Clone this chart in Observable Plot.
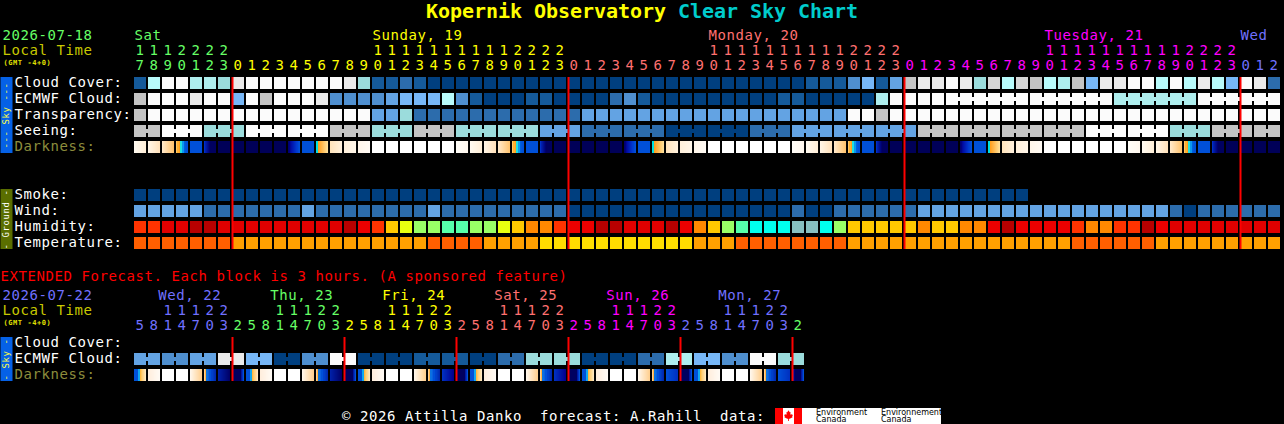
<!DOCTYPE html>
<html>
<head>
<meta charset="utf-8">
<script src="https://cdn.jsdelivr.net/npm/d3@7"></script>
<script src="https://cdn.jsdelivr.net/npm/@observablehq/plot@0.6"></script>
<style>
html,body{margin:0;padding:0;background:#000;width:1284px;height:424px;overflow:hidden}
body{font-family:"DejaVu Sans Mono",monospace;color:#fff}
#title{height:25px;line-height:23px;text-align:center;font-size:20px;font-weight:bold;color:#ff0;white-space:pre;letter-spacing:-.04px}
#title span{color:#0cc}
#charts svg{display:block}
#footer{position:absolute;left:342px;top:408px;height:16px;line-height:16px;font-size:14px;white-space:pre;letter-spacing:.57px}
#logo{position:absolute;left:775px;top:408px;width:166px;height:16px;background:#fff;color:#000;font:8px/7px "DejaVu Sans",sans-serif}
#logo i{position:absolute;top:0;width:8px;height:16px;background:#f00}
#logo svg{position:absolute;left:9px;top:2px}
#logo b{position:absolute;top:1px;font-weight:normal;white-space:pre}
</style>
</head>
<body>
<div id="title">Kopernik Observatory <span>Clear Sky Chart</span></div>
<div id="charts"></div>
<div id="footer">© 2026 Attilla Danko  forecast: A.Rahill  data:</div>
<div id="logo"><i style="left:0"></i><i style="left:19px"></i>
<svg width="9" height="12" viewBox="0 0 11 14"><path fill="#f00" d="M5.5 0 7 2.5 8 2 7.700 5.500 9 4.500 9.500 5.500 11 5.500 10 7.500 10.500 8.500 7 10.500 6 10.500 6 13 5 13 5 10.500 4 10.500 .5 8.500 1 7.500 0 5.500 1.500 5.500 2 4.500 3.300 5.500 3 2 4 2.500Z"/></svg>
<b style="left:41px">Environment
Canada</b><b style="left:106px">Environnement
Canada</b></div>
<script>
// ---- Hourly table -------------------------------------------------------
const hours = [17,18,19,20,21,22,23,
  0,1,2,3,4,5,6,7,8,9,10,11,12,13,14,15,16,17,18,19,20,21,22,23,
  0,1,2,3,4,5,6,7,8,9,10,11,12,13,14,15,16,17,18,19,20,21,22,23,
  0,1,2,3,4,5,6,7,8,9,10,11,12,13,14,15,16,17,18,19,20,21,22,23,
  0,1,2];
const hourDay = [...Array(7).fill("sat"),...Array(24).fill("sun"),...Array(24).fill("mon"),...Array(24).fill("tue"),...Array(3).fill("wed")];

// Sky levels: index into skyColors
const cloudCover = [1,8,9,9,7,7,6,10,9,9,9,9,9,9,9,10,6,1,1,2,1,
  0,0,0,0,0,0,0,0,0,0,0,0,0,0,0,0,0,0,0,0,0,0,0,0,0,0,0,1,1,1,3,
  5,1,4,12,10,10,9,10,6,11,8,11,12,8,7,12,5,10,10,9,9,8,9,8,10,8,5,9,10,2];
const ecmwfCloud = [12,9,9,9,10,9,9,5,9,12,9,9,9,10,3,3,3,3,4,5,5,
  5,8,3,1,0,0,0,1,1,0,0,0,0,2,3,1,0,0,0,0,0,0,0,0,0,1,1,0,0,0,0,
  0,7,9,9,9,9,9,9,9,9,9,9,9,9,9,9,9,9,7,7,7,7,7,7,9,9,9,9,9,9];
const transparency = [12,9,9,9,9,9,9,9,9,9,9,9,9,9,9,9,9,4,4,6,2,
  2,2,2,2,2,2,2,2,2,2,2,4,4,4,4,4,4,4,4,4,4,4,4,4,4,4,4,4,4,4,9,
  9,12,9,9,9,9,9,9,9,9,9,9,9,9,9,9,9,9,9,9,9,9,9,9,9,9,9,9,9,9];
const seeing = [12,12,9,9,9,6,6,6,9,9,9,9,9,9,12,12,12,6,6,6,12,
  12,12,6,6,6,6,6,6,4,4,4,2,2,2,2,2,2,0,0,0,0,0,0,2,2,2,4,4,4,4,4,
  4,4,4,4,12,12,12,12,12,12,12,12,12,12,12,12,9,9,9,9,9,9,6,6,6,12,12,12,12,12];
const smoke = Array.from({length:64},()=>0);
const wind = [4,4,4,4,4,2,2,2,2,2,2,2,4,2,2,2,2,2,2,2,2,4,
  2,2,2,2,2,2,2,2,2,0,0,0,0,0,0,0,0,0,0,0,0,0,0,0,0,2,0,0,2,2,
  2,2,2,2,4,4,4,4,4,4,4,4,4,4,4,4,4,4,4,4,4,4,2,0,2,2,2,2,2,2];
// Humidity levels: index into humidityColors
const humidity = [0,0,2,2,3,3,2,2,2,2,2,2,2,2,2,3,1,0,4,5,6,
  6,7,7,6,6,5,4,10,10,0,1,1,3,3,2,2,2,3,1,10,4,6,7,8,8,8,9,9,8,6,4,
  4,4,4,4,10,4,4,10,10,1,3,1,1,1,1,0,10,10,0,0,3,1,2,2,2,2,2,2,2,2];
// Temperature levels: index into temperatureColors
const temperature = [0,0,0,0,0,0,0,1,1,1,1,1,1,1,1,1,1,1,1,1,1,
  0,0,0,0,1,1,1,1,2,2,2,2,2,2,2,2,2,2,2,1,1,1,0,0,0,0,0,0,0,0,1,
  1,1,1,1,1,1,1,1,1,1,1,1,1,1,1,0,0,0,0,0,0,1,1,1,1,1,1,1,1,1];
// Darkness: one sky state per block
const darkness = ["A","B","C","D","E","F","N","N","N","N","N","G","E","H","I","J","K","W","W","W","W","W","W","L",
  "A","B","C","D","E","F","N","N","N","N","N","G","E","H","I","J","K","W","W","W","W","W","W","L",
  "A","B","C","D","E","F","N","N","N","N","N","G","E","H","I","J","K","W","W","W","W","W","W","L",
  "A","B","C","D","E","F","N","N","N","N"];

const blockDays = [
  {text:"Sat",col:0,day:"sat"},{text:"Sunday, 19",col:17,day:"sun"},{text:"Monday, 20",col:41,day:"mon"},
  {text:"Tuesday, 21",col:65,day:"tue"},{text:"Wed",col:79,day:"wed"}];
const midnights = [7,31,55,79];

// ---- Extended table -----------------------------------------------------
const extHours = [5,8,11,14,17,20,23,2,5,8,11,14,17,20,23,2,5,8,11,14,17,20,23,2,5,8,11,14,17,20,23,2,5,8,11,14,17,20,23,2,5,8,11,14,17,20,23,2];
const extHourDay = [...Array(7).fill("wed"),...Array(8).fill("sun2"),...Array(8).fill("sun"),...Array(8).fill("mon"),...Array(8).fill("tue"),...Array(8).fill("wed"),"sun2"];
const extEcmwf = [4,4,3,3,4,4,10,10,5,5,0,0,3,3,9,9,0,0,0,0,1,1,1,1,0,0,2,2,6,6,6,6,0,0,0,0,2,2,7,7,5,5,3,3,9,9,6,6];
const extDarkness = ["P","Q","W","W","R","S","T","U","P","Q","W","W","R","S","T","U","P","Q","W","W","R","S","T2","U",
  "P","Q","W","W","R","S","T2","U","P","Q","W","W","R","S","T3","U","P","Q","W","W","R","S","T3","V"];
const extDays = [
  {text:"Wed, 22",col:1.7,day:"wed"},{text:"Thu, 23",col:9.7,day:"sun2"},{text:"Fri, 24",col:17.7,day:"sun"},
  {text:"Sat, 25",col:25.7,day:"mon"},{text:"Sun, 26",col:33.7,day:"tue"},{text:"Mon, 27",col:41.7,day:"wed"}];
const extMidnights = [7,15,23,31,39,47];

// ---- Colours ------------------------------------------------------------
const skyColors = ["#003f7f","#155a9a","#2c6cac","#4f8fcf","#63a3e3","#77b7f7","#9bdcdc","#aeeeee","#b8fbfb","#fbfbfb","#eaeaea","#d6d6d6","#c4c4c4"];
const humidityColors = ["#ff3300","#ec0000","#e00000","#b80000","#ffc800","#e8ff10","#99ff66","#55ffaa","#00ffee","#88c0c0","#ff8800"];
const temperatureColors = ["#ff5f00","#ffa000","#ffdd00"];
const dayColors = {sat:"#66ff66",sun2:"#66ff66",sun:"#ffff00",mon:"#ff7070",tue:"#ff00ff",wed:"#7070ff"};
const colorDomain = [...skyColors.map((_,i)=>"s"+i),...humidityColors.map((_,i)=>"h"+i),...temperatureColors.map((_,i)=>"t"+i)];
const colorRange = [...skyColors,...humidityColors,...temperatureColors];

function ramp(a,b,n=12){return d3.quantize(d3.interpolateRgb(a,b),n)}
const darkStrips = {
  W:ramp("#ffffff","#ffffff"), N:ramp("#000058","#000058"), E:ramp("#0050d8","#0050d8"),
  A:ramp("#fffaf0","#ffefd8"), B:ramp("#fff5e6","#ffe2bc"), C:ramp("#ffe8c8","#ffc470"),
  D:["#ffc868","#ffb030","#ffb030","#ffa020","#20e0e0","#20e0e0","#0a98f0","#0a98f0","#0060e0","#0058d8","#0050d8","#0050d8"],
  F:["#0030c8","#0020b0","#0018a0","#001090","#000880","#000070",...Array(6).fill("#000060")],
  G:["#000070","#000080","#000898","#0010a8","#0018b0","#0020b8","#0028c0","#0030c8","#0038d0","#0040d0","#0048d8","#0050d8"],
  H:["#00e0e0","#00e0e0",...ramp("#ffa020","#ffe098",10)],
  I:ramp("#ffe4bc","#fff0dc"), J:ramp("#fff0dc","#fff6e8"), K:ramp("#fff6ea","#fffaf4"), L:ramp("#fffdf8","#fff8ee"),
  P:["#0050d8","#0050d8","#0050d8","#0050d8","#10a8f0","#10a8f0","#ffb840","#ffc860","#ffd080","#ffd890","#ffe0a8","#ffe8c0"],
  Q:ramp("#ffeedd","#fffaf4"), R:ramp("#fff6ea","#ffd090"),
  S:["#ffd090","#ffb040","#0a70e0","#0a70e0","#0a60e0","#0050d8","#0050d8","#0040d0","#0040c8","#0038c0","#0030b8","#0028b0"],
  T:ramp("#0020a8","#000068"), T2:ramp("#0030c0","#000090"), T3:ramp("#0050d8","#0030c0"),
  U:[...Array(9).fill("#000060"),"#0018a0","#0030c0","#0050d8"],
  V:["#0040c8","#0020a0","#000080",...Array(6).fill("#000060"),"#0018a0","#0030c0","#0050d8"]
};

// ---- Derived records ----------------------------------------------------
const cellW = 12/14;                         // block width in column units
const blocks = (values,row,prefix)=>values.map((v,col)=>({col,row,key:prefix+v}));
const strips = (values,row)=>values.flatMap((v,col)=>darkStrips[v].map((fill,j)=>({col,j,row,fill})));
// links join neighbouring blocks of one forecast period
const links = (values,row,prefix,joined)=>values.slice(0,-1).flatMap((v,col)=>joined(col)?[{col,row,key:prefix+v}]:[]);

const blockMark = d=>Plot.barX(d,{x1:"col",x2:e=>e.col+cellW,y:"row",fill:"key"});
const linkMark = d=>Plot.barX(d,{x1:e=>e.col+11/14,x2:e=>e.col+15/14,y:"row",fill:"key",insetTop:4,insetBottom:4});
const stripMark = d=>Plot.barX(d,{x1:e=>e.col+e.j/14,x2:e=>e.col+(e.j+1.02)/14,y:"row",fill:"fill"});
const tens = h=>h>=10?String(Math.floor(h/10)):"";
const ones = h=>String(h%10);
const digits = (hs,ds)=>hs.map((h,col)=>({col:col+5.5/14,h,fill:dayColors[ds[col]]}));
const sideBar = (y1,y2,stroke)=>Plot.ruleX([-128/14],{y1:()=>y1,y2:()=>y2,stroke,strokeWidth:12});
const common = {width:1284,marginLeft:134,marginRight:2,marginTop:0,marginBottom:0,
  style:{background:"#000",fontFamily:"'DejaVu Sans Mono',monospace",fontSize:"14px",letterSpacing:"0.57px"}};
const xScale = {domain:[0,82],axis:null};
const colorScale = {type:"ordinal",domain:colorDomain,range:colorRange};
const LEFT = -134/14;   // column position of the page's left edge

const headerMarks = (dayList,hs,ds,dateText,dateFill)=>[
  Plot.text(dayList,{x:"col",y:()=>"date",text:"text",fill:d=>dayColors[d.day],textAnchor:"start"}),
  Plot.text(digits(hs,ds),{x:"col",y:()=>"tens",text:d=>tens(d.h),fill:"fill",dy:-1}),
  Plot.text(digits(hs,ds),{x:"col",y:()=>"ones",text:d=>ones(d.h),fill:"fill",dy:-2}),
  Plot.text([dateText],{x:LEFT+2/14,y:()=>"date",text:d=>d,fill:dateFill,textAnchor:"start"}),
  Plot.text(["Local Time"],{x:LEFT+2/14,y:()=>"tens",text:d=>d,fill:"#c8c800",textAnchor:"start",dy:-1}),
  Plot.text(["(GMT -4+0)"],{x:LEFT+3/14,y:()=>"ones",text:d=>d,fill:"#e0e000",fontSize:7,fontWeight:"bold",textAnchor:"start",dy:-5})
];
const rowAxis = (ticks,labels)=>Plot.axisY({ticks,tickSize:0,tickPadding:0,textAnchor:"start",dx:-120,dy:-1,
  tickFormat:d=>labels[d],label:null,fill:d=>d==="dark"?"#8c8c3c":"#ffffff",fontSize:14});
const sideText = (text,y,fill,dy=0)=>Plot.text([text],{x:-128/14,y:()=>y,text:d=>d,rotate:-90,fill,fontSize:9,dy,dx:-.5});

// ---- Top chart ----------------------------------------------------------
const topRows = ["date","tens","ones","cloud","ecmwf","transp","seeing","dark","gap1","gap2","smoke","wind","hum","temp","gap3","ext"];
const topLabels = {cloud:"Cloud Cover:",ecmwf:"ECMWF Cloud:",transp:"Transparency:",seeing:"Seeing:",dark:"Darkness:",
  smoke:"Smoke:",wind:"Wind:",hum:"Humidity:",temp:"Temperature:"};
const topChart = Plot.plot({...common,height:260,
  x:xScale,y:{domain:topRows,padding:.25,axis:null},color:colorScale,
  marks:[
    sideBar("cloud","dark","#0561e6"),
    sideBar("smoke","temp","#5a6e00"),
    sideText("--- Sky ---","transp","#ffff40"),
    sideText("- Ground -","wind","#ffffff",8),
    ...headerMarks(blockDays,hours,hourDay,"2026-07-18","#66ff66"),
    rowAxis(Object.keys(topLabels),topLabels),
    blockMark(blocks(cloudCover,"cloud","s")),
    blockMark(blocks(ecmwfCloud,"ecmwf","s")),
    linkMark(links(ecmwfCloud,"ecmwf","s",c=>c>=58&&(c-58)%6!==5)),
    blockMark(blocks(transparency,"transp","s")),
    blockMark(blocks(seeing,"seeing","s")),
    linkMark(links(seeing,"seeing","s",c=>(c+1)%3!==2)),
    stripMark(strips(darkness,"dark")),
    blockMark(blocks(smoke,"smoke","s")),
    blockMark(blocks(wind,"wind","s")),
    blockMark(blocks(humidity,"hum","h")),
    blockMark(blocks(temperature,"temp","t")),
    Plot.ruleX(midnights,{y1:()=>"cloud",y2:()=>"temp",stroke:"#ff0000",strokeWidth:2}),
    Plot.text(["EXTENDED Forecast. Each block is 3 hours. (A sponsored feature)"],
      {x:LEFT,y:()=>"ext",text:d=>d,fill:"#ff0000",textAnchor:"start",dy:1})
  ]});

// ---- Extended chart -----------------------------------------------------
const extRows = ["date","tens","ones","cloud","ecmwf","dark"];
const extLabels = {cloud:"Cloud Cover:",ecmwf:"ECMWF Cloud:",dark:"Darkness:"};
const extChart = Plot.plot({...common,height:100,
  x:xScale,y:{domain:extRows,padding:.25,axis:null},color:colorScale,
  marks:[
    sideBar("cloud","dark","#0561e6"),
    sideText("- Sky -","ecmwf","#ffff40"),
    ...headerMarks(extDays,extHours,extHourDay,"2026-07-22","#7070ff"),
    rowAxis(Object.keys(extLabels),extLabels),
    blockMark(blocks(extEcmwf,"ecmwf","s")),
    linkMark(links(extEcmwf,"ecmwf","s",c=>c%2===0)),
    stripMark(strips(extDarkness,"dark")),
    Plot.ruleX(extMidnights,{y1:()=>"cloud",y2:()=>"dark",stroke:"#ff0000",strokeWidth:2})
  ]});

document.getElementById("charts").append(topChart,extChart);
</script>
</body>
</html>
